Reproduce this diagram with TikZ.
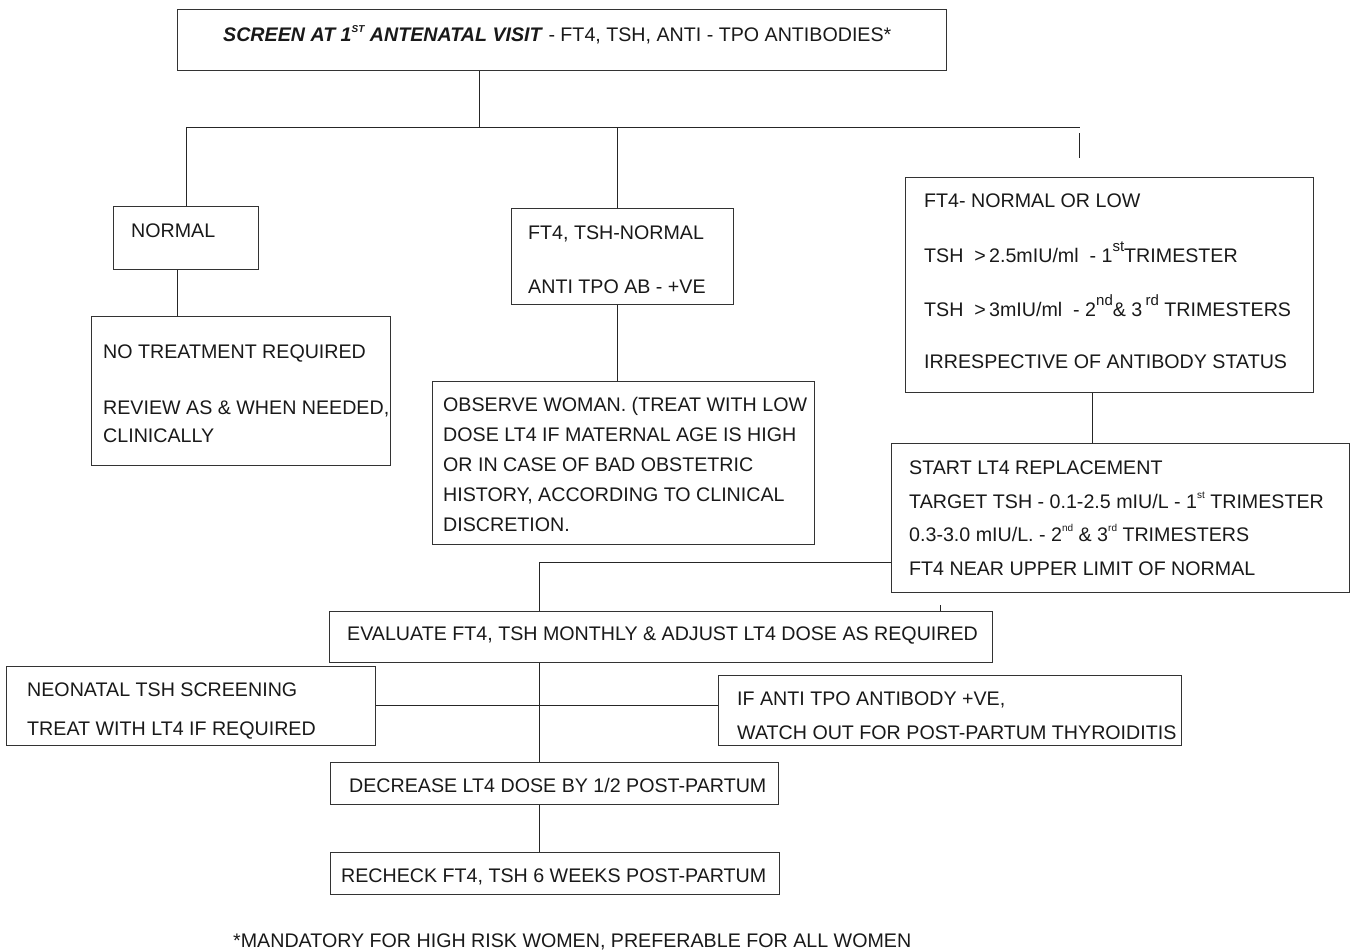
\documentclass[tikz,border=0pt]{standalone}
\usepackage{fontspec}
\setmainfont{Liberation Sans}
\newcommand{\mainf}{\fontsize{19.65}{23}\selectfont}
\newcommand{\bigsup}[1]{\raisebox{0.55em}{\fontsize{15}{15}\selectfont #1}}
\newcommand{\tinysup}[1]{\raisebox{0.5em}{\fontsize{10}{10}\selectfont #1}}
\begin{document}
\begin{tikzpicture}[x=1pt,y=-1pt,
  box/.style={draw=black!80, line width=1.3pt, inner sep=0pt, anchor=north west},
  txt/.style={anchor=base west, inner sep=0pt, font=\mainf, text=black!90},
  conn/.style={draw=black!85, line width=1pt}]
\useasboundingbox (0,0) rectangle (1351,950);
% boxes
\node[box, minimum width=769pt, minimum height=61pt] (top) at (177,9) {};
\node[box, minimum width=145pt, minimum height=63pt] (normal) at (113,206) {};
\node[box, minimum width=299pt, minimum height=149pt] (notreat) at (91,316) {};
\node[box, minimum width=222pt, minimum height=96pt] (ft4) at (511,208) {};
\node[box, minimum width=382pt, minimum height=163pt] (observe) at (432,381) {};
\node[box, minimum width=408pt, minimum height=215pt] (rbox) at (905,177) {};
\node[box, minimum width=458pt, minimum height=149pt] (start) at (891,443) {};
\node[box, minimum width=663pt, minimum height=51pt] (eval) at (329,611) {};
\node[box, minimum width=369pt, minimum height=79pt] (neo) at (6,666) {};
\node[box, minimum width=463pt, minimum height=70pt] (ifanti) at (718,675) {};
\node[box, minimum width=448pt, minimum height=42pt] (dec) at (330,762) {};
\node[box, minimum width=449pt, minimum height=42pt] (rech) at (330,852) {};
% texts
\node[txt] (t0) at (223,42) {\textbf{\textit{SCREEN AT 1\tinysup{ST} ANTENATAL VISIT}} - FT4, TSH, ANTI - TPO ANTIBODIES*};
\node[txt] (t1) at (131,237) {NORMAL};
\node[txt] (t2a) at (103,358) {NO TREATMENT REQUIRED};
\node[txt] (t2b) at (103,414) {REVIEW AS \& WHEN NEEDED,};
\node[txt] (t2c) at (103,442) {CLINICALLY};
\node[txt] (t3a) at (528,239) {FT4, TSH-NORMAL};
\node[txt] (t3b) at (528,293) {ANTI TPO AB - +VE};
\node[txt] (t4a) at (443,411) {OBSERVE WOMAN. (TREAT WITH LOW};
\node[txt] (t4b) at (443,441) {DOSE LT4 IF MATERNAL AGE IS HIGH};
\node[txt] (t4c) at (443,471) {OR IN CASE OF BAD OBSTETRIC};
\node[txt] (t4d) at (443,501) {HISTORY, ACCORDING TO CLINICAL};
\node[txt] (t4e) at (443,531) {DISCRETION.};
\node[txt] (t5a) at (924,207) {FT4- NORMAL OR LOW};
\node[txt] (t5b) at (924,262) {TSH\ \ >\,2.5mIU/ml\ \ - 1\bigsup{st}TRIMESTER};
\node[txt] (t5c) at (924,316) {TSH\ \ >\,3mIU/ml\ \ - 2\bigsup{nd}\& 3\,\bigsup{rd} TRIMESTERS};
\node[txt] (t5d) at (924,368) {IRRESPECTIVE OF ANTIBODY STATUS};
\node[txt] (t6a) at (909,474) {START LT4 REPLACEMENT};
\node[txt] (t6b) at (909,508) {TARGET TSH - 0.1-2.5 mIU/L - 1\tinysup{st} TRIMESTER};
\node[txt] (t6c) at (909,541) {0.3-3.0 mIU/L. - 2\tinysup{nd} \& 3\tinysup{rd} TRIMESTERS};
\node[txt] (t6d) at (909,575) {FT4 NEAR UPPER LIMIT OF NORMAL};
\node[txt] (t7) at (347,640) {EVALUATE FT4, TSH MONTHLY \& ADJUST LT4 DOSE AS REQUIRED};
\node[txt] (t8a) at (27,696) {NEONATAL TSH SCREENING};
\node[txt] (t8b) at (27,735) {TREAT WITH LT4 IF REQUIRED};
\node[txt] (t9a) at (737,705) {IF ANTI TPO ANTIBODY +VE,};
\node[txt] (t9b) at (737,739) {WATCH OUT FOR POST-PARTUM THYROIDITIS};
\node[txt] (t10) at (349,792) {DECREASE LT4 DOSE BY 1/2 POST-PARTUM};
\node[txt] (t11) at (341,882) {RECHECK FT4, TSH 6 WEEKS POST-PARTUM};
\node[txt] (t12) at (233,947) {*MANDATORY FOR HIGH RISK WOMEN, PREFERABLE FOR ALL WOMEN};
% junction coordinates
\coordinate (j1) at (479,127);
\coordinate (bL) at (186,127);
\coordinate (bM) at (617,127);
\coordinate (bR) at (1080,127);
\coordinate (sR1) at (1079,133);
\coordinate (sR2) at (1079,158);
\coordinate (c1) at (177,0);
\coordinate (c2) at (1092,0);
\coordinate (c3) at (539,562);
\coordinate (c4) at (539,705);
\coordinate (tk) at (940,605);
% connectors
\draw[conn] (top.south -| j1) -- (j1);
\draw[conn] (bL) -- (bR);
\draw[conn] (bL) -- (normal.north -| bL);
\draw[conn] (bM) -- (ft4.north -| bM);
\draw[conn] (sR1) -- (sR2);
\draw[conn] (normal.south -| c1) -- (notreat.north -| c1);
\draw[conn] (ft4.south -| bM) -- (observe.north -| bM);
\draw[conn] (rbox.south -| c2) -- (start.north -| c2);
\draw[conn] (start.west |- c3) -- (c3) -- (eval.north -| c3);
\draw[conn] (eval.south -| c3) -- (dec.north -| c3);
\draw[conn] (neo.east |- c4) -- (ifanti.west |- c4);
\draw[conn] (dec.south -| c3) -- (rech.north -| c3);
\draw[conn] (eval.north -| tk) -- (tk);
\end{tikzpicture}
\end{document}
